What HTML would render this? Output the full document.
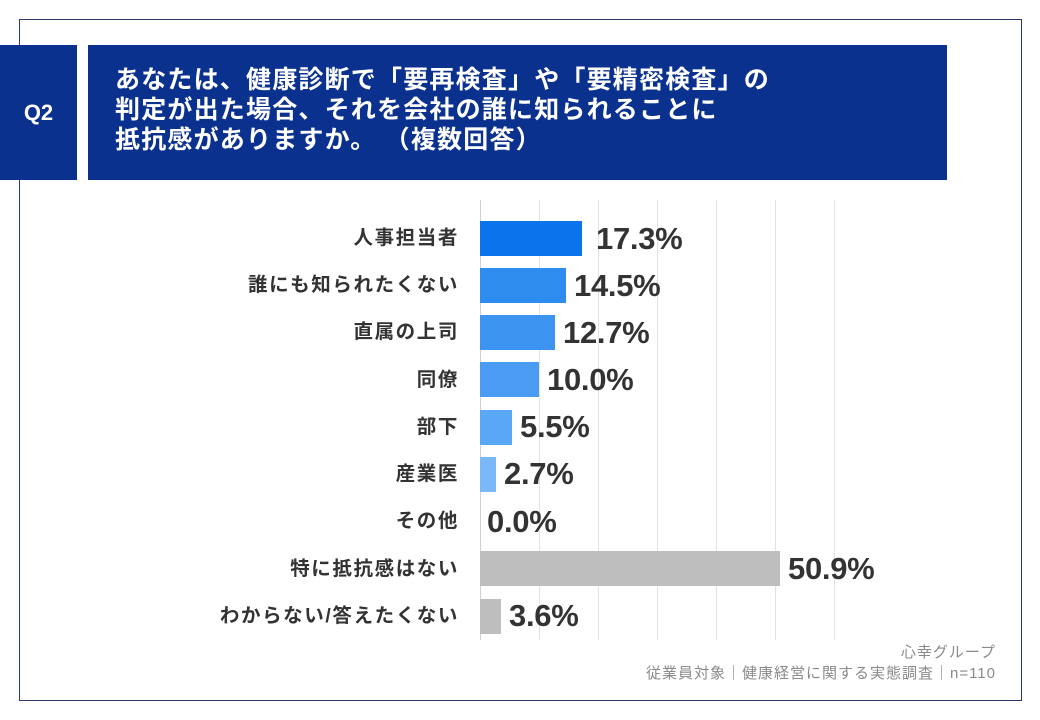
<!DOCTYPE html>
<html><head><meta charset="utf-8"><style>
body{margin:0;width:1040px;height:720px;background:#fff;position:relative;overflow:hidden;font-family:"Liberation Sans","Noto Sans CJK JP",sans-serif}
.abs{position:absolute}
.lab{position:absolute;right:581px;font-size:19.5px;letter-spacing:1.6px;font-weight:bold;color:#333;white-space:nowrap;line-height:20px}
.val{position:absolute;font-size:31px;font-weight:bold;color:#333;line-height:30px;letter-spacing:-0.3px}
.bar{position:absolute;left:480px;height:35px}
.g{position:absolute;top:200px;height:440px;width:1px;background:#e2e2e2}
</style></head><body>
<div class="abs" style="left:19px;top:19px;width:1003px;height:682px;border:1.5px solid #2b3a6b;box-sizing:border-box"></div>
<div class="abs" style="left:0;top:45px;width:77px;height:135px;background:#0b318f;color:#fff;font-weight:bold;font-size:22px;display:flex;align-items:center;justify-content:center">Q2</div>
<div class="abs" style="left:88px;top:45px;width:859px;height:135px;background:#0b318f;color:#fff;font-weight:bold;font-size:25px;letter-spacing:1.2px;line-height:30px;box-sizing:border-box;padding:20px 0 0 27px">あなたは、健康診断で「要再検査」や「要精密検査」の<br>判定が出た場合、それを会社の誰に知られることに<br>抵抗感がありますか。 （複数回答）</div>
<div class="g" style="left:480px;background:#d0d0d0"></div>
<div class="g" style="left:539px"></div><div class="g" style="left:598px"></div><div class="g" style="left:657px"></div><div class="g" style="left:716px"></div><div class="g" style="left:775px"></div><div class="g" style="left:834px"></div>

<div class="lab" style="top:228px">人事担当者</div>
<div class="bar" style="top:221px;width:102px;background:#0a74ea"></div>
<div class="val" style="left:596px;top:224px">17.3%</div>

<div class="lab" style="top:275px">誰にも知られたくない</div>
<div class="bar" style="top:268px;width:86px;background:#2f8cef"></div>
<div class="val" style="left:574px;top:271px">14.5%</div>

<div class="lab" style="top:322px">直属の上司</div>
<div class="bar" style="top:315px;width:75px;background:#3c93f0"></div>
<div class="val" style="left:563px;top:318px">12.7%</div>

<div class="lab" style="top:370px">同僚</div>
<div class="bar" style="top:362px;width:59px;background:#4a9cf2"></div>
<div class="val" style="left:547px;top:365px">10.0%</div>

<div class="lab" style="top:417px">部下</div>
<div class="bar" style="top:410px;width:32px;background:#5aa8f5"></div>
<div class="val" style="left:520px;top:412px">5.5%</div>

<div class="lab" style="top:464px">産業医</div>
<div class="bar" style="top:457px;width:16px;background:#7ab8f7"></div>
<div class="val" style="left:504px;top:459px">2.7%</div>

<div class="lab" style="top:511px">その他</div>
<div class="val" style="left:487px;top:507px">0.0%</div>

<div class="lab" style="top:559px">特に抵抗感はない</div>
<div class="bar" style="top:551px;width:300px;background:#bebebe"></div>
<div class="val" style="left:788px;top:554px">50.9%</div>

<div class="lab" style="top:606px">わからない/答えたくない</div>
<div class="bar" style="top:599px;width:21px;background:#bebebe"></div>
<div class="val" style="left:509px;top:601px">3.6%</div>

<div class="abs" style="right:44px;top:642px;font-size:15px;letter-spacing:1px;color:#8a8a8a;text-align:right;line-height:21px">心幸グループ<br>従業員対象｜健康経営に関する実態調査｜n=110</div>
</body></html>
